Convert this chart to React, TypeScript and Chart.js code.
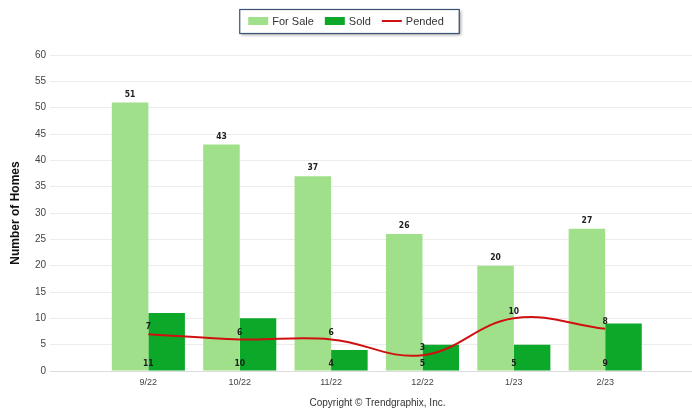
import { useEffect, useRef } from 'react';
import { Chart, registerables } from 'chart.js';

Chart.register(...registerables);

// Monthly home counts
const categories = ['9/22', '10/22', '11/22', '12/22', '1/23', '2/23'];
const forSale = [51, 43, 37, 26, 20, 27];
const sold = [11, 10, 4, 5, 5, 9];
const pended = [7, 6, 6, 3, 10, 8];

const yMin = 0;
const yMax = 60;
const yStep = 5;

const forSaleColor = '#a1e08a';
const soldColor = '#0ba82a';
const pendedColor = '#d01010';

const copyright = 'Copyright © Trendgraphix, Inc.';

// An empty slot before the first month keeps it away from the y axis
const xLabels = ['', ...categories];
const pad = (values: number[]) => [null, ...values];
// Width of the x range, in category slots, spread over the plot
const xSlots = 6.95;

const sansFamily = '"Liberation Sans", Arial, sans-serif';
const valueFont = 'bold 8.5px "Liberation Sans Narrow", "DejaVu Sans Condensed", "Liberation Sans", sans-serif';
const legendFont = '11px ' + sansFamily;

// Writes each value next to its bar or line point
const valueLabels = {
  id: 'valueLabels',
  afterDatasetsDraw(chart: any) {
    const { ctx } = chart;
    const xScale = chart.scales.x;
    const yScale = chart.scales.y;
    ctx.save();
    ctx.font = valueFont;
    ctx.fillStyle = '#1e1e1e';
    ctx.textAlign = 'center';
    ctx.textBaseline = 'middle';
    chart.data.datasets.forEach((ds: any, di: number) => {
      const meta = chart.getDatasetMeta(di);
      meta.data.forEach((el: any, i: number) => {
        const v = ds.data[i];
        if (v === null || v === undefined) return;
        if (ds.label === 'For Sale') {
          ctx.fillText(String(v), el.x, el.y - 8);
        } else if (ds.label === 'Sold') {
          ctx.fillText(String(v), xScale.getPixelForValue(i), yScale.getPixelForValue(0) - 7);
        } else {
          ctx.fillText(String(v), el.x, el.y - 7);
        }
      });
    });
    ctx.restore();
  },
};

// Framed legend across the top and the copyright line under the plot
const framedLegend = {
  id: 'framedLegend',
  afterDraw(chart: any) {
    const { ctx, chartArea } = chart;
    const items = chart.data.datasets.map((ds: any) => ({
      label: ds.label as string,
      color: (ds.type === 'line' ? ds.borderColor : ds.backgroundColor) as string,
      isLine: ds.type === 'line',
    }));
    ctx.save();
    ctx.font = legendFont;
    const swatch = 20;
    const gap = 4;
    const spacing = 11;
    const widths = items.map((it: any) => swatch + gap + ctx.measureText(it.label).width);
    const total = widths.reduce((a: number, b: number) => a + b, 0) + spacing * (items.length - 1);
    const start = 346 - total / 2;
    const cy = 21;
    const left = start - 9;
    const right = start + total + 15;
    const top = 9;
    const bottom = 33;

    ctx.save();
    ctx.shadowColor = 'rgba(0,0,0,0.35)';
    ctx.shadowBlur = 3;
    ctx.shadowOffsetX = 2;
    ctx.shadowOffsetY = 2;
    ctx.fillStyle = '#ffffff';
    ctx.fillRect(left, top, right - left, bottom - top);
    ctx.restore();
    ctx.strokeStyle = '#3a5275';
    ctx.lineWidth = 1.2;
    ctx.strokeRect(left + 0.5, top + 0.5, right - left, bottom - top);

    let x = start;
    items.forEach((it: any, i: number) => {
      if (it.isLine) {
        ctx.strokeStyle = it.color;
        ctx.lineWidth = 2;
        ctx.beginPath();
        ctx.moveTo(x, cy);
        ctx.lineTo(x + swatch, cy);
        ctx.stroke();
      } else {
        ctx.fillStyle = it.color;
        ctx.fillRect(x, cy - 4, swatch, 8);
      }
      ctx.fillStyle = '#333333';
      ctx.textAlign = 'left';
      ctx.textBaseline = 'middle';
      ctx.fillText(it.label, x + swatch + gap, cy + 0.5);
      x += widths[i] + spacing;
    });

    ctx.font = '10px ' + sansFamily;
    ctx.fillStyle = '#333333';
    ctx.textAlign = 'center';
    ctx.textBaseline = 'middle';
    ctx.fillText(copyright, (chartArea.left + chartArea.right) / 2 + 3, 403);
    ctx.restore();
  },
};

export default function App() {
  const canvasRef = useRef<HTMLCanvasElement | null>(null);

  useEffect(() => {
    if (!canvasRef.current) return;
    const chart = new Chart(canvasRef.current, {
      type: 'bar',
      data: {
        labels: xLabels,
        datasets: [
          {
            type: 'bar',
            label: 'For Sale',
            data: pad(forSale),
            backgroundColor: forSaleColor,
            categoryPercentage: 0.8,
            barPercentage: 1,
            order: 1,
          },
          {
            type: 'bar',
            label: 'Sold',
            data: pad(sold),
            backgroundColor: soldColor,
            categoryPercentage: 0.8,
            barPercentage: 1,
            order: 1,
          },
          {
            type: 'line',
            label: 'Pended',
            data: pad(pended),
            borderColor: pendedColor,
            backgroundColor: pendedColor,
            borderWidth: 2,
            tension: 0.4,
            pointRadius: 0,
            fill: false,
            order: 0,
          },
        ] as any,
      },
      options: {
        animation: false,
        responsive: true,
        maintainAspectRatio: false,
        layout: { padding: { top: 55, right: 0, left: 0, bottom: 0 } },
        plugins: {
          legend: { display: false },
          tooltip: { enabled: false },
        },
        scales: {
          x: {
            type: 'category',
            offset: false,
            grid: { display: false, drawTicks: true, tickLength: 6 },
            border: { display: false },
            ticks: {
              autoSkip: false,
              maxRotation: 0,
              padding: 0,
              color: '#444444',
              font: { family: sansFamily, size: 9 },
            },
            afterBuildTicks: (s: any) => {
              s._valueRange = xSlots;
            },
            afterFit: (s: any) => {
              s.height = 40;
            },
          },
          y: {
            min: yMin,
            max: yMax,
            ticks: {
              stepSize: yStep,
              padding: 4,
              color: '#444444',
              font: { family: sansFamily, size: 10 },
            },
            grid: {
              color: (c: any) => (c.tick && c.tick.value === 0 ? '#dcdcdc' : '#ececec'),
              tickLength: 7,
            },
            border: { display: false },
            title: {
              display: true,
              text: 'Number of Homes',
              color: '#111111',
              font: { family: sansFamily, size: 12, weight: 'bold' },
              padding: { top: 8, bottom: 0 },
            },
            afterFit: (s: any) => {
              s.width = 57;
            },
          },
        },
      },
      plugins: [valueLabels, framedLegend],
    });
    return () => chart.destroy();
  }, []);

  return (
    <div style={{ position: 'fixed', left: 0, top: 0, width: 692, height: 411, background: '#ffffff' }}>
      <canvas ref={canvasRef} />
    </div>
  );
}
